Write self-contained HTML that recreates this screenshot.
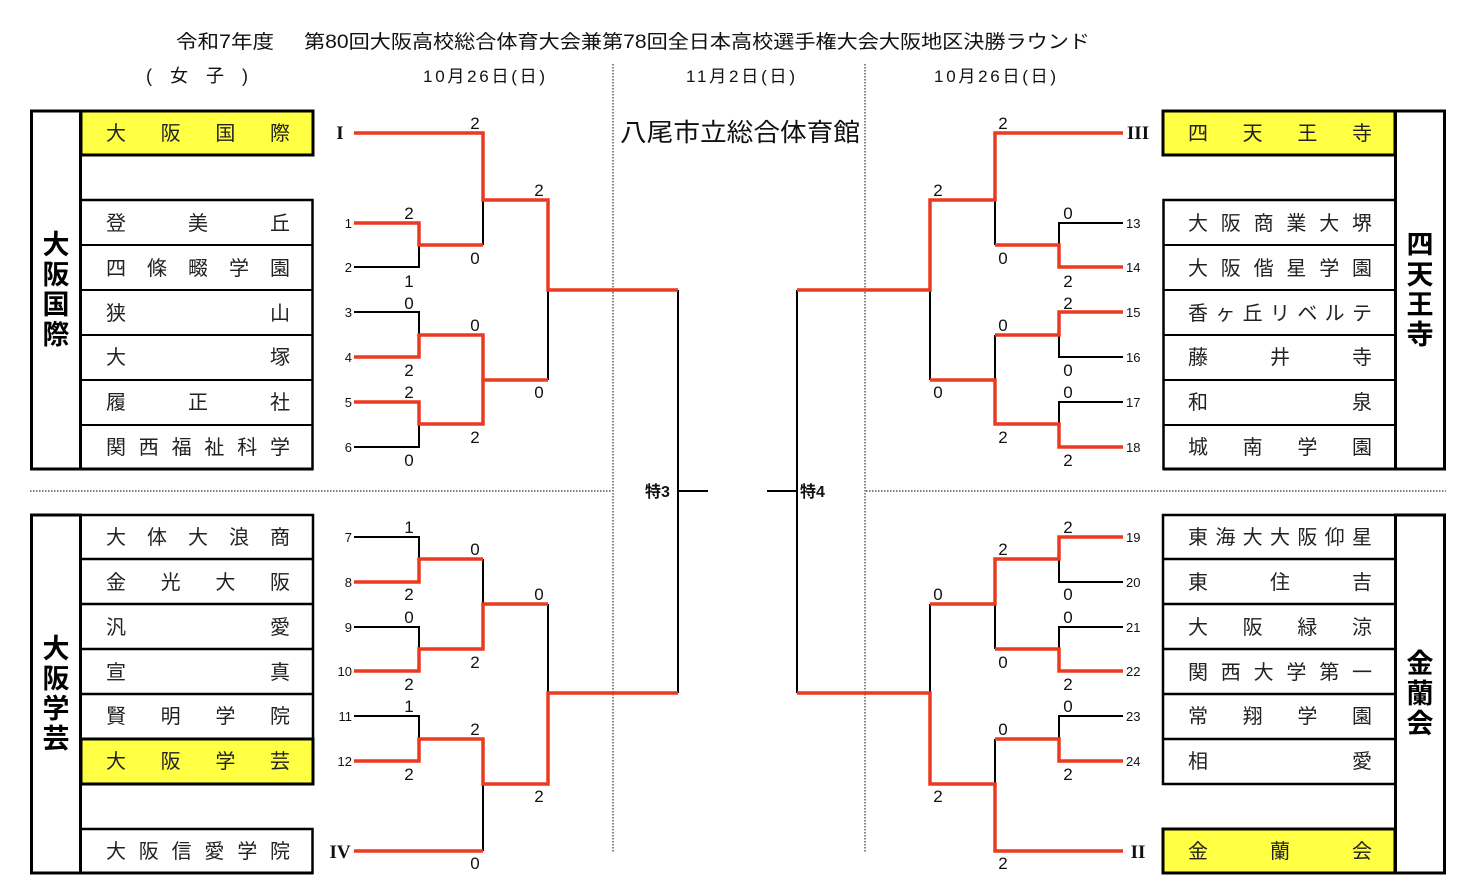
<!DOCTYPE html>
<html><head><meta charset="utf-8"><style>
html,body{margin:0;padding:0;background:#fff;}
svg{display:block;font-family:"Liberation Sans","Noto Sans CJK JP",sans-serif;}
.t{font-size:20px;fill:#222;}
.s{font-size:17px;fill:#111;}
.n{font-size:13px;fill:#111;}
.side{font-size:27px;font-weight:bold;fill:#000;}
.r{font-family:"Liberation Serif",serif;font-weight:bold;font-size:19px;fill:#111;}
</style></head><body>
<svg width="1469" height="892" viewBox="0 0 1469 892" xmlns="http://www.w3.org/2000/svg">
<rect width="1469" height="892" fill="#fff"/>
<!-- header -->
<text x="176" y="48" font-size="19" fill="#111" textLength="98" lengthAdjust="spacingAndGlyphs">令和7年度</text>
<text x="304" y="48" font-size="19" fill="#111" textLength="786" lengthAdjust="spacingAndGlyphs">第80回大阪高校総合体育大会兼第78回全日本高校選手権大会大阪地区決勝ラウンド</text>
<text x="146" y="82" font-size="18" fill="#111" textLength="102" lengthAdjust="spacing">( 女 子 )</text>
<text x="423" y="82" font-size="17" fill="#111" textLength="122" lengthAdjust="spacing">10月26日(日)</text>
<text x="686" y="82" font-size="17" fill="#111" textLength="109" lengthAdjust="spacing">11月2日(日)</text>
<text x="934" y="82" font-size="17" fill="#111" textLength="122" lengthAdjust="spacing">10月26日(日)</text>
<text x="620" y="141" font-size="25" fill="#111" textLength="240" lengthAdjust="spacingAndGlyphs">八尾市立総合体育館</text>
<!-- dotted lines -->
<g stroke="#333" stroke-width="1.2" stroke-dasharray="1.5,1.5" fill="none">
<path d="M613 64 V852 M865 64 V852 M30 491 H612 M866 491 H1446"/>
</g>
<!-- boxes -->
<g fill="none" stroke="#000">
<rect x="81" y="111" width="232" height="44" fill="#ffff44" stroke-width="3"/>
<rect x="31.5" y="111" width="49" height="358" stroke-width="3"/>
<rect x="80.5" y="200" width="232" height="269" stroke-width="2.5"/>
<path d="M80 245 H313 M80 290 H313 M80 335 H313 M80 380 H313 M80 425 H313" stroke-width="2"/>
<path d="M31 469 H313" stroke-width="3"/>
<rect x="81" y="739" width="232" height="45" fill="#ffff44" stroke-width="3"/>
<rect x="31.5" y="515" width="49" height="358" stroke-width="3"/>
<path d="M80 515 H313 V739 M80 559 H313 M80 604 H313 M80 649 H313 M80 694 H313" stroke-width="2.5"/>
<rect x="80.5" y="829" width="232" height="44" stroke-width="2.5"/>
<path d="M31 873 H313" stroke-width="3"/>
<rect x="1163" y="111" width="232" height="44" fill="#ffff44" stroke-width="3"/>
<rect x="1395.5" y="111" width="49" height="358" stroke-width="3"/>
<rect x="1163.5" y="200" width="232" height="269" stroke-width="2.5"/>
<path d="M1163 245 H1395 M1163 290 H1395 M1163 335 H1395 M1163 380 H1395 M1163 425 H1395" stroke-width="2"/>
<path d="M1163 469 H1446" stroke-width="3"/>
<rect x="1163" y="829" width="232" height="44" fill="#ffff44" stroke-width="3"/>
<rect x="1395.5" y="515" width="49" height="358" stroke-width="3"/>
<path d="M1395 515 H1163 V784 H1395 M1163 559 H1395 M1163 604 H1395 M1163 649 H1395 M1163 694 H1395 M1163 739 H1395" stroke-width="2.5"/>
</g>
<!-- side labels -->
<g class="side" text-anchor="middle">
<text x="56" y="254">大</text><text x="56" y="284">阪</text><text x="56" y="314">国</text><text x="56" y="344">際</text>
<text x="56" y="658">大</text><text x="56" y="688">阪</text><text x="56" y="718">学</text><text x="56" y="748">芸</text>
<text x="1420" y="254">四</text><text x="1420" y="284">天</text><text x="1420" y="314">王</text><text x="1420" y="344">寺</text>
<text x="1420" y="673">金</text><text x="1420" y="703">蘭</text><text x="1420" y="733">会</text>
</g>
<!-- team names -->
<g class="t">
<text x="106" y="140" textLength="184" lengthAdjust="spacing">大阪国際</text>
<text x="106" y="230" textLength="184" lengthAdjust="spacing">登美丘</text>
<text x="106" y="275" textLength="184" lengthAdjust="spacing">四條畷学園</text>
<text x="106" y="320" textLength="184" lengthAdjust="spacing">狭山</text>
<text x="106" y="364" textLength="184" lengthAdjust="spacing">大塚</text>
<text x="106" y="409" textLength="184" lengthAdjust="spacing">履正社</text>
<text x="106" y="454" textLength="184" lengthAdjust="spacing">関西福祉科学</text>
<text x="106" y="544" textLength="184" lengthAdjust="spacing">大体大浪商</text>
<text x="106" y="589" textLength="184" lengthAdjust="spacing">金光大阪</text>
<text x="106" y="634" textLength="184" lengthAdjust="spacing">汎愛</text>
<text x="106" y="679" textLength="184" lengthAdjust="spacing">宣真</text>
<text x="106" y="723" textLength="184" lengthAdjust="spacing">賢明学院</text>
<text x="106" y="768" textLength="184" lengthAdjust="spacing">大阪学芸</text>
<text x="106" y="858" textLength="184" lengthAdjust="spacing">大阪信愛学院</text>
<text x="1188" y="140" textLength="184" lengthAdjust="spacing">四天王寺</text>
<text x="1188" y="230" textLength="184" lengthAdjust="spacing">大阪商業大堺</text>
<text x="1188" y="275" textLength="184" lengthAdjust="spacing">大阪偕星学園</text>
<text x="1188" y="320" textLength="184" lengthAdjust="spacing">香ヶ丘リベルテ</text>
<text x="1188" y="364" textLength="184" lengthAdjust="spacing">藤井寺</text>
<text x="1188" y="409" textLength="184" lengthAdjust="spacing">和泉</text>
<text x="1188" y="454" textLength="184" lengthAdjust="spacing">城南学園</text>
<text x="1188" y="544" textLength="184" lengthAdjust="spacing">東海大大阪仰星</text>
<text x="1188" y="589" textLength="184" lengthAdjust="spacing">東住吉</text>
<text x="1188" y="634" textLength="184" lengthAdjust="spacing">大阪緑涼</text>
<text x="1188" y="679" textLength="184" lengthAdjust="spacing">関西大学第一</text>
<text x="1188" y="723" textLength="184" lengthAdjust="spacing">常翔学園</text>
<text x="1188" y="768" textLength="184" lengthAdjust="spacing">相愛</text>
<text x="1188" y="858" textLength="184" lengthAdjust="spacing">金蘭会</text>
</g>
<g class="r" text-anchor="middle">
<text x="340" y="139">I</text><text x="340" y="858">IV</text>
<text x="1138" y="139">III</text><text x="1138" y="858">II</text>
</g>
<g class="n" text-anchor="end">
<text x="352" y="228">1</text><text x="352" y="272">2</text><text x="352" y="317">3</text><text x="352" y="362">4</text><text x="352" y="407">5</text><text x="352" y="452">6</text>
<text x="352" y="542">7</text><text x="352" y="587">8</text><text x="352" y="632">9</text><text x="352" y="676">10</text><text x="352" y="721">11</text><text x="352" y="766">12</text>
</g>
<g class="n">
<text x="1126" y="228">13</text><text x="1126" y="272">14</text><text x="1126" y="317">15</text><text x="1126" y="362">16</text><text x="1126" y="407">17</text><text x="1126" y="452">18</text>
<text x="1126" y="542">19</text><text x="1126" y="587">20</text><text x="1126" y="632">21</text><text x="1126" y="676">22</text><text x="1126" y="721">23</text><text x="1126" y="766">24</text>
</g>
<g stroke="#000" stroke-width="2" fill="none">
<path d="M354 267 H419 V245 M483 200 V245 M354 312 H419 V335 M483 335 V380 M354 447 H419 V424 M548 290 V380 M678 290 V693 M678 491 H708"/>
<path d="M354 537 H419 V559 M354 627 H419 V649 M483 559 V604 M354 716 H419 V739 M548 604 V693 M483 784 V851"/>
<path d="M1123 223 H1059 V245 M995 200 V245 M1123 357 H1059 V335 M1123 402 H1059 V424 M995 335 V380 M930 290 V380 M797 290 V693 M767 491 H797"/>
<path d="M1123 582 H1059 V559 M1123 627 H1059 V649 M995 604 V649 M1123 716 H1059 V739 M995 739 V784 M930 604 V693"/>
</g>
<g stroke="#ea3a20" stroke-width="3.5" fill="none">
<path d="M354 133 H483 V200 H548 V290 H678"/>
<path d="M354 223 H419 V245 H483"/>
<path d="M354 357 H419 V335 H483 V380 H548"/>
<path d="M354 402 H419 V424 H483 V380"/>
<path d="M354 582 H419 V559 H483"/>
<path d="M354 671 H419 V649 H483 V604 H548"/>
<path d="M354 761 H419 V739 H483 V784 H548 V693 H678"/>
<path d="M354 851 H483"/>
<path d="M1123 133 H995 V200 H930 V290 H797"/>
<path d="M1123 267 H1059 V245 H995"/>
<path d="M1123 312 H1059 V335 H995"/>
<path d="M1123 447 H1059 V424 H995 V380 H930"/>
<path d="M1123 537 H1059 V559 H995 V604 H930"/>
<path d="M1123 671 H1059 V649 H995"/>
<path d="M1123 761 H1059 V739 H995"/>
<path d="M1123 851 H995 V784 H930 V693 H797"/>
</g>
<text x="645" y="497" font-size="16" font-weight="bold" fill="#111">特3</text>
<text x="800" y="497" font-size="16" font-weight="bold" fill="#111">特4</text>
<g class="s" text-anchor="middle">
<text x="475" y="129">2</text><text x="409" y="219">2</text><text x="409" y="287">1</text><text x="475" y="264">0</text>
<text x="409" y="309">0</text><text x="475" y="331">0</text><text x="409" y="376">2</text><text x="409" y="398">2</text>
<text x="475" y="443">2</text><text x="409" y="466">0</text><text x="539" y="196">2</text><text x="539" y="398">0</text>
<text x="409" y="533">1</text><text x="409" y="600">2</text><text x="475" y="555">0</text><text x="409" y="623">0</text>
<text x="409" y="690">2</text><text x="475" y="668">2</text><text x="539" y="600">0</text><text x="409" y="712">1</text>
<text x="409" y="780">2</text><text x="475" y="735">2</text><text x="539" y="802">2</text><text x="475" y="869">0</text>
<text x="1003" y="129">2</text><text x="938" y="196">2</text><text x="1068" y="219">0</text><text x="1003" y="264">0</text>
<text x="1068" y="287">2</text><text x="1068" y="309">2</text><text x="1003" y="331">0</text><text x="1068" y="376">0</text>
<text x="1068" y="398">0</text><text x="938" y="398">0</text><text x="1003" y="443">2</text><text x="1068" y="466">2</text>
<text x="1068" y="533">2</text><text x="1003" y="555">2</text><text x="1068" y="600">0</text><text x="938" y="600">0</text>
<text x="1068" y="623">0</text><text x="1003" y="668">0</text><text x="1068" y="690">2</text><text x="1068" y="712">0</text>
<text x="1003" y="735">0</text><text x="1068" y="780">2</text><text x="938" y="802">2</text><text x="1003" y="869">2</text>
</g>
</svg>
</body></html>
